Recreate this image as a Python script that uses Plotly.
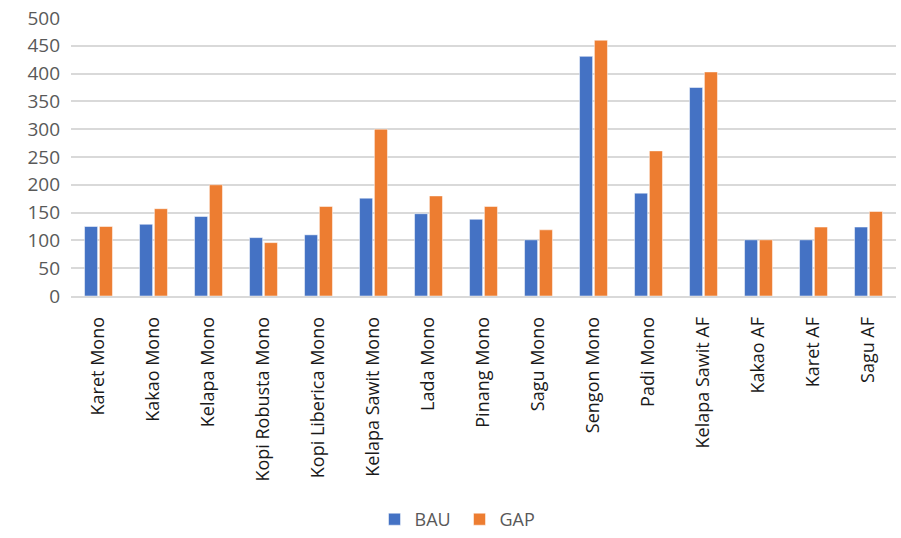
import plotly.graph_objects as go

categories = ["Karet Mono", "Kakao Mono", "Kelapa Mono", "Kopi Robusta Mono", "Kopi Liberica Mono",
              "Kelapa Sawit Mono", "Lada Mono", "Pinang Mono", "Sagu Mono", "Sengon Mono",
              "Padi Mono", "Kelapa Sawit AF", "Kakao AF", "Karet AF", "Sagu AF"]
bau = [125, 129, 143, 105, 110, 176, 148, 138, 101, 431, 185, 375, 101, 101, 124]
gap = [125, 157, 200, 96, 161, 300, 180, 161, 119, 460, 261, 403, 101, 124, 152]
y_ticks = [0, 50, 100, 150, 200, 250, 300, 350, 400, 450, 500]

font_family = "Open Sans, sans-serif"
grey = "#595959"

fig = go.Figure()
fig.add_trace(go.Bar(name="BAU", x=categories, y=bau, marker_color="#4472C4",
                     marker_line_color="white", marker_line_width=0.5))
fig.add_trace(go.Bar(name="GAP", x=categories, y=gap, marker_color="#ED7D31",
                     marker_line_color="white", marker_line_width=0.5))

fig.update_layout(
    width=901, height=538,
    margin=dict(l=71, r=5, t=18, b=242, autoexpand=False),
    paper_bgcolor="white", plot_bgcolor="white",
    barmode="group", bargap=0.46, bargroupgap=0.12,
    font=dict(family=font_family, color=grey, size=18),
    legend=dict(orientation="h", xref="container", x=0.51, xanchor="center",
                yref="container", y=-0.01, yanchor="bottom",
                font=dict(size=18, color=grey), itemwidth=30, traceorder="normal",
                entrywidth=40),
    xaxis=dict(tickangle=-90, tickfont=dict(size=18, color="#1a1a1a"), showgrid=False,
               showline=True, linecolor="#d9d9d9", linewidth=1.5, ticks="", ticklabelstandoff=12,
               automargin=False),
    yaxis=dict(range=[0, 500], tickvals=y_ticks, showgrid=True, gridcolor="#d9d9d9",
               gridwidth=1.5, zeroline=False, showline=False, ticks="",
               tickfont=dict(size=19, color=grey), ticklabelstandoff=10, automargin=False),
)

fig.write_html("out.html")
